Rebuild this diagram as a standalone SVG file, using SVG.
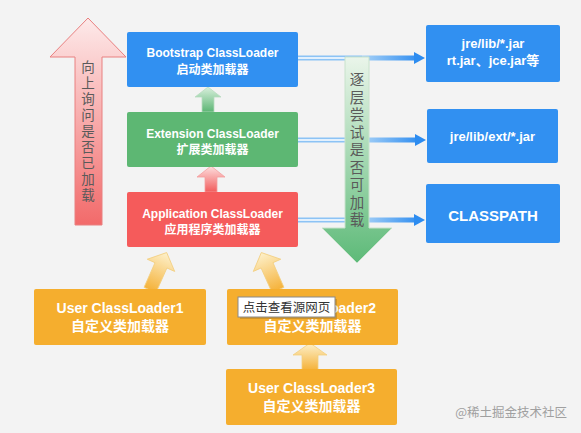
<svg xmlns="http://www.w3.org/2000/svg" width="581" height="433" viewBox="0 0 581 433">
<defs>
<linearGradient id="gPink" x1="0" y1="0" x2="0" y2="1"><stop offset="0" stop-color="#fdeaea"/><stop offset="1" stop-color="#f26a6a"/></linearGradient>
<linearGradient id="gGreenBig" x1="0" y1="0" x2="0" y2="1"><stop offset="0" stop-color="#eaf5ea"/><stop offset="1" stop-color="#5dba78"/></linearGradient>
<linearGradient id="gGreen" x1="0" y1="0" x2="0" y2="1"><stop offset="0" stop-color="#d9f0dd"/><stop offset="1" stop-color="#5cb574"/></linearGradient>
<linearGradient id="gRed" x1="0" y1="0" x2="0" y2="1"><stop offset="0" stop-color="#fde0e0"/><stop offset="1" stop-color="#f25c5c"/></linearGradient>
<linearGradient id="gYellow" x1="0" y1="0" x2="0" y2="1"><stop offset="0" stop-color="#fdf1cc"/><stop offset="1" stop-color="#f5b23a"/></linearGradient>
<linearGradient id="gLine" gradientUnits="userSpaceOnUse" x1="362" y1="0" x2="420" y2="0"><stop offset="0" stop-color="#a8d2f7"/><stop offset="1" stop-color="#2d8cf0"/></linearGradient>
<path id="upArrow" d="M -6.5,0 L -6.5,-27 L -15,-27 L 0,-41 L 15,-27 L 6.5,-27 L 6.5,0 Z"/>
</defs>
<style>
.en{font-family:"Comic Sans MS","Liberation Sans","Noto Sans CJK SC",sans-serif;font-weight:bold;fill:#fff;text-anchor:middle}
.zh{font-family:"Noto Sans CJK SC",sans-serif;font-weight:bold;fill:#fff;text-anchor:middle}
.vt{font-family:"Noto Sans CJK SC",sans-serif;fill:#5a5a5a;writing-mode:vertical-rl;text-orientation:upright}
.blue{fill:#3190f1}
.dbl{stroke:#8cc3f5;stroke-width:5;fill:none}
.dblin{stroke:#ffffff;stroke-width:1.6;fill:none}
.solid{stroke:url(#gLine);stroke-width:5;fill:none}
.head{fill:#2d8cf0}
</style>
<rect width="581" height="433" fill="#f3f3f3"/>

<g id="connectors">
  <path class="dbl" d="M298,58 H362"/><path class="dblin" d="M298,58 H362"/>
  <path class="solid" d="M362,58 H416"/><path class="head" d="M414,52 L425,58 L414,64 Z"/>
  <path class="dbl" d="M298,140 H362"/><path class="dblin" d="M298,140 H362"/>
  <path class="solid" d="M362,140 H417"/><path class="head" d="M415,134 L426,140 L415,146 Z"/>
  <path class="dbl" d="M298,220 H362"/><path class="dblin" d="M298,220 H362"/>
  <path class="solid" d="M362,220 H416"/><path class="head" d="M414,214 L425,220 L414,226 Z"/>
  <path fill="url(#gGreen)" stroke="#b9dcc0" stroke-width="0.8" d="M208,87 L221,97 L214,97 L214,112 L202,112 L202,97 L195,97 Z"/>
  <path fill="url(#gRed)" stroke="#f4a0a0" stroke-width="0.8" d="M211,166 L225,177 L217,177 L217,192 L205,192 L205,177 L197,177 Z"/>
  <use href="#upArrow" fill="url(#gYellow)" stroke="#f3cf80" stroke-width="0.8" transform="translate(150,290) rotate(24)"/>
  <use href="#upArrow" fill="url(#gYellow)" stroke="#f3cf80" stroke-width="0.8" transform="translate(278,290) rotate(-24)"/>
  <path fill="url(#gYellow)" stroke="#f3cf80" stroke-width="0.8" d="M310,343 L327,355 L318,355 L318,370 L302,370 L302,355 L293,355 Z"/>
</g>

<g id="arrow-up-ask">
  <path fill="url(#gPink)" stroke="#e98080" stroke-width="1" d="M88,18 L126,57 L102,57 L102,225 L75,225 L75,57 L50,57 Z"/>
  <text class="vt" x="88" y="60" font-size="13.5" letter-spacing="2.5">向上询问是否已加载</text>
</g>

<g id="arrow-down-try">
  <path fill="url(#gGreenBig)" stroke="#c8e2cc" stroke-width="1" d="M345,57 L369,57 L369,228 L392,228 L357,263 L322,228 L345,228 Z"/>
  <text class="vt" x="357" y="72.5" font-size="14.5" letter-spacing="3">逐层尝试是否可加载</text>
</g>

<g id="bootstrap">
  <rect x="127" y="32" width="171" height="55" rx="2" fill="#3190f1"/>
  <text class="en" x="212.5" y="57" font-size="12">Bootstrap ClassLoader</text>
  <text class="zh" x="212.5" y="74" font-size="12">启动类加载器</text>
</g>
<g id="extension">
  <rect x="127" y="112" width="171" height="55" rx="2" fill="#5db773"/>
  <text class="en" x="212.5" y="138" font-size="12">Extension ClassLoader</text>
  <text class="zh" x="212.5" y="154" font-size="12">扩展类加载器</text>
</g>
<g id="application">
  <rect x="127" y="192" width="171" height="55" rx="2" fill="#f55b5b"/>
  <text class="en" x="212.5" y="218" font-size="12">Application ClassLoader</text>
  <text class="zh" x="212.5" y="234" font-size="12">应用程序类加载器</text>
</g>

<g id="jre-lib">
  <rect class="blue" x="426" y="25" width="134" height="57" rx="2"/>
  <text class="en" x="493" y="48" font-size="13">jre/lib/*.jar</text>
  <text class="en" x="493" y="65" font-size="13">rt.jar、jce.jar等</text>
</g>
<g id="jre-lib-ext">
  <rect class="blue" x="427" y="109" width="131" height="54" rx="2"/>
  <text class="en" x="492.5" y="141" font-size="13">jre/lib/ext/*.jar</text>
</g>
<g id="classpath">
  <rect class="blue" x="426" y="184" width="134" height="59" rx="2"/>
  <text class="en" x="493" y="221" font-size="15">CLASSPATH</text>
</g>

<g id="user1">
  <rect x="34" y="289" width="172" height="56" rx="2" fill="#f5ae2e"/>
  <text class="en" x="120" y="313" font-size="14">User ClassLoader1</text>
  <text class="zh" x="120" y="331" font-size="14">自定义类加载器</text>
</g>
<g id="user2">
  <rect x="227" y="289" width="171" height="56" rx="2" fill="#f5ae2e"/>
  <text class="en" x="312.5" y="313" font-size="14">User ClassLoader2</text>
  <text class="zh" x="312.5" y="331" font-size="14">自定义类加载器</text>
</g>
<g id="user3">
  <rect x="226" y="369" width="171" height="56" rx="2" fill="#f5ae2e"/>
  <text class="en" x="311.5" y="393" font-size="14">User ClassLoader3</text>
  <text class="zh" x="311.5" y="411" font-size="14">自定义类加载器</text>
</g>

<g id="tooltip">
  <rect x="240" y="299" width="97" height="20" fill="#000" opacity="0.15"/>
  <rect x="238" y="297" width="97" height="20" fill="#ffffff" stroke="#8a8a8a" stroke-width="1"/>
  <text x="286.5" y="312" font-size="12.5" fill="#333" text-anchor="middle" font-family="Noto Sans CJK SC, sans-serif">点击查看源网页</text>
</g>

<text x="567" y="417" font-size="12.5" fill="#a0a0a0" text-anchor="end" font-family="Noto Sans CJK SC, sans-serif">@稀土掘金技术社区</text>
</svg>
